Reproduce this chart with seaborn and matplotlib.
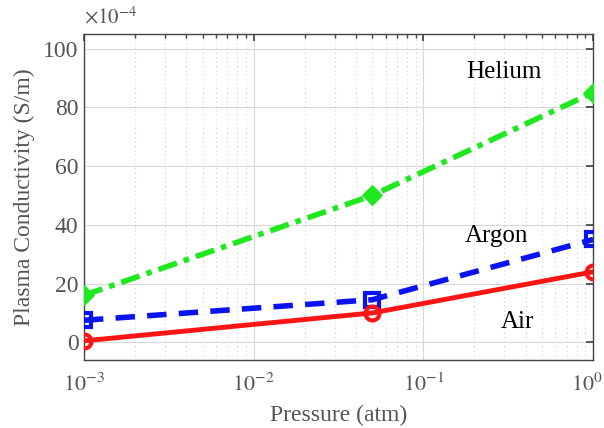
import matplotlib
matplotlib.use("Agg")
import matplotlib.pyplot as plt
import matplotlib.transforms as mtrans
import seaborn as sns
import numpy as np
import pandas as pd
from matplotlib.ticker import LogLocator, NullFormatter

pressure = [1e-3, 5e-2, 1.0]
air = [0.5, 10, 24]
argon = [7.5, 14.5, 35]
helium = [16, 50, 85]
xticks = [1e-3, 1e-2, 1e-1, 1e0]
xtick_labels = [r"$10^{-3}$", r"$10^{-2}$", r"$10^{-1}$", r"$10^{0}$"]
yticks = [0, 20, 40, 60, 80, 100]

sns.set_theme(style="white")
plt.rcParams['font.family'] = ['Liberation Serif', 'DejaVu Serif']
plt.rcParams['mathtext.fontset'] = 'stix'

fig = plt.figure(figsize=(6.04, 4.28), dpi=100)
ax = fig.add_axes([0.139, 0.159, 0.843, 0.762])

df = pd.DataFrame({"p": pressure, "Air": air, "Argon": argon, "Helium": helium})

sns.lineplot(data=df, x="p", y="Helium", ax=ax, color="#1fe81f", lw=4,
             linestyle=(0, (3.5, 1.3, 1, 1.3)), marker="D", markersize=10,
             markerfacecolor="#1fe81f", markeredgecolor="#1fe81f", zorder=3)
sns.lineplot(data=df, x="p", y="Argon", ax=ax, color="#0a14f0", lw=4,
             linestyle=(0, (3.5, 2.2)), marker="s", markersize=10,
             markerfacecolor="none", markeredgewidth=3, markeredgecolor="#0a14f0", zorder=3)
sns.lineplot(data=df, x="p", y="Air", ax=ax, color="#ff1414", lw=3.5,
             linestyle="-", marker="o", markersize=10,
             markerfacecolor="none", markeredgewidth=3, markeredgecolor="#ff1414", zorder=3)

ax.set_xscale("log")
ax.set_xlim(1e-3, 1.0)
ax.set_ylim(-6, 105)
ax.set_xticks(xticks)
ax.set_xticklabels(xtick_labels)
ax.xaxis.set_minor_locator(LogLocator(base=10, subs=np.arange(2, 10)))
ax.xaxis.set_minor_formatter(NullFormatter())
ax.set_yticks(yticks)
ax.set_yticklabels([str(v) for v in yticks])

ax.grid(True, which="major", color="#d8d8d8", lw=0.8, ls="-")
ax.grid(True, which="minor", axis="x", color="#d0d0d0", lw=0.8, ls=(0, (1, 3)))
ax.set_axisbelow(True)

for s in ax.spines.values():
    s.set_color("#444444")
    s.set_linewidth(1.0)
ax.tick_params(which="both", direction="in", top=True, right=True, colors="#444444",
               labelcolor="#555555")
ax.tick_params(axis="y", labelsize=17, pad=4)
ax.tick_params(axis="x", labelsize=16, pad=10)
ax.tick_params(which="major", length=5)
ax.tick_params(which="minor", length=3)

lab = ax.get_xticklabels()[-1]
lab.set_transform(lab.get_transform() + mtrans.ScaledTranslation(-6/100, 0, fig.dpi_scale_trans))

ax.set_xlabel("Pressure (atm)", fontsize=17, color="#555555", labelpad=6)
ax.set_ylabel("Plasma Conductivity (S/m)", fontsize=17, color="#555555", labelpad=6)

ax.text(0.0, 1.015, r"$\times10^{-4}$", transform=ax.transAxes, fontsize=15,
        color="#555555", ha="left", va="bottom")

serif = ['Liberation Serif', 'DejaVu Serif']
ax.text(0.30, 92, "Helium", fontsize=18, family=serif, color="black", ha="center", va="center")
ax.text(0.27, 36.3, "Argon", fontsize=18, family=serif, color="black", ha="center", va="center")
ax.text(0.356, 7, "Air", fontsize=18, family=serif, color="black", ha="center", va="center")

fig.savefig("out.png", dpi=100)
